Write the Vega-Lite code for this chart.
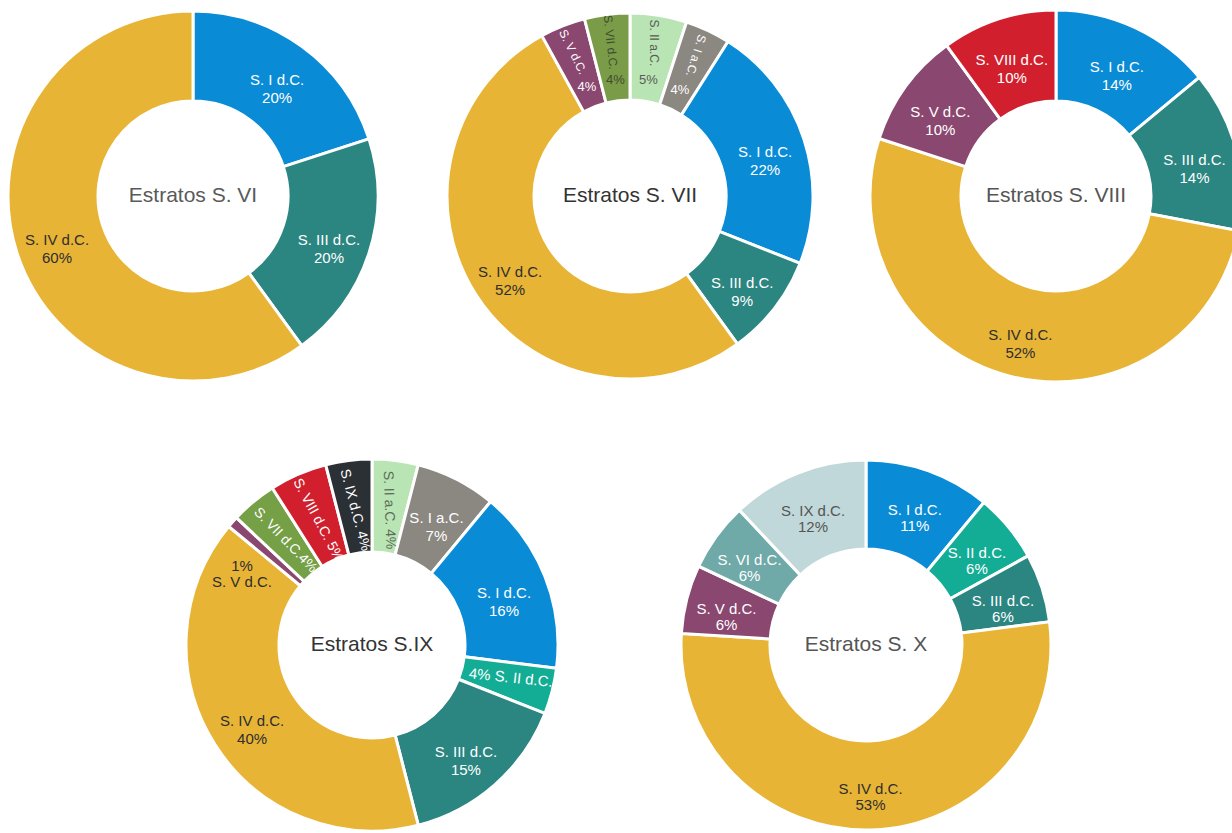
{
  "$schema": "https://vega.github.io/schema/vega-lite/v6.json",
  "padding": 0,
  "background": "white",
  "spacing": 61,
  "config": {"view": {"stroke": null}},
  "resolve": {"scale": {"color": "independent", "theta": "independent"}},
  "vconcat": [
    {
      "hconcat": [
        {
          "width": 386, "height": 392,
          "data": {"values": [
            {"s": "S. I d.C.", "v": 20, "n": 1},
            {"s": "S. III d.C.", "v": 20, "n": 2},
            {"s": "S. IV d.C.", "v": 60, "n": 3}
          ]},
          "layer": [
            {"mark": {"type": "arc", "outerRadius": 185, "innerRadius": 95, "stroke": "#ffffff", "strokeWidth": 3},
             "encoding": {"theta": {"field": "v", "type": "quantitative", "stack": true}, "order": {"field": "n", "type": "quantitative"},
               "color": {"field": "s", "type": "nominal", "legend": null, "scale": {"domain": ["S. I d.C.", "S. III d.C.", "S. IV d.C."], "range": ["#0a8bd6", "#2b8581", "#e8b435"]}}}},
            {"transform": [{"calculate": "datum.s + '\\n' + datum.v + '%'", "as": "lab"}],
             "mark": {"type": "text", "radius": 143, "font": "Liberation Sans", "fontSize": 15, "lineBreak": "\n", "lineHeight": 18},
             "encoding": {"theta": {"field": "v", "type": "quantitative", "stack": true}, "order": {"field": "n", "type": "quantitative"}, "detail": {"field": "s"},
               "text": {"field": "lab"},
               "color": {"condition": {"test": "datum.s === 'S. IV d.C.'", "value": "#2e2e2e"}, "value": "#ffffff"}}},
            {"data": {"values": [{"t": "Estratos S. VI"}]},
             "mark": {"type": "text", "font": "Liberation Sans", "fontSize": 21, "color": "#5a5a5a"},
             "encoding": {"text": {"field": "t"}}}
          ]
        },
        {
          "width": 488, "height": 392,
          "data": {"values": [
            {"s": "S. II a.C.", "v": 5, "n": 1},
            {"s": "S. I a.C.", "v": 4, "n": 2},
            {"s": "S. I d.C.", "v": 22, "n": 3},
            {"s": "S. III d.C.", "v": 9, "n": 4},
            {"s": "S. IV d.C.", "v": 52, "n": 5},
            {"s": "S. V d.C.", "v": 4, "n": 6},
            {"s": "S. VII d.C.", "v": 4, "n": 7}
          ]},
          "layer": [
            {"mark": {"type": "arc", "outerRadius": 183, "innerRadius": 96, "stroke": "#ffffff", "strokeWidth": 3},
             "encoding": {"theta": {"field": "v", "type": "quantitative", "stack": true}, "order": {"field": "n", "type": "quantitative"},
               "color": {"field": "s", "type": "nominal", "legend": null, "scale": {"domain": ["S. II a.C.", "S. I a.C.", "S. I d.C.", "S. III d.C.", "S. IV d.C.", "S. V d.C.", "S. VII d.C."], "range": ["#b9e4b3", "#8b8781", "#0a8bd6", "#2b8581", "#e8b435", "#8a476f", "#7a9c48"]}}}},
            {"transform": [{"calculate": "datum.s + '\\n' + datum.v + '%'", "as": "lab"}],
             "mark": {"type": "text", "radius": 142, "font": "Liberation Sans", "fontSize": 15, "lineBreak": "\n", "lineHeight": 18},
             "encoding": {"theta": {"field": "v", "type": "quantitative", "stack": true}, "order": {"field": "n", "type": "quantitative"}, "detail": {"field": "s"},
               "text": {"condition": {"test": "indexof(['S. I d.C.','S. III d.C.','S. IV d.C.'], datum.s) >= 0", "field": "lab"}, "value": ""},
               "color": {"condition": {"test": "datum.s === 'S. IV d.C.'", "value": "#2e2e2e"}, "value": "#ffffff"}}},
            {"mark": {"type": "text", "radius": 155, "font": "Liberation Sans", "fontSize": 12},
             "encoding": {"theta": {"field": "v", "type": "quantitative", "stack": true}, "order": {"field": "n", "type": "quantitative"}, "detail": {"field": "s"},
               "text": {"condition": {"test": "indexof(['S. II a.C.','S. I a.C.','S. V d.C.','S. VII d.C.'], datum.s) >= 0", "field": "s"}, "value": ""},
               "angle": {"condition": [
                 {"test": "datum.s === 'S. V d.C.'", "value": 64},
                 {"test": "datum.s === 'S. VII d.C.'", "value": 84},
                 {"test": "datum.s === 'S. II a.C.'", "value": 90},
                 {"test": "datum.s === 'S. I a.C.'", "value": 107}
               ], "value": 0},
               "color": {"condition": [
                 {"test": "datum.s === 'S. VII d.C.'", "value": "#3e4d2e"},
                 {"test": "datum.s === 'S. II a.C.'", "value": "#5a5a5a"}
               ], "value": "#ffffff"}}},
            {"transform": [{"calculate": "datum.v + '%'", "as": "pct"}],
             "mark": {"type": "text", "radius": 117, "font": "Liberation Sans", "fontSize": 13},
             "encoding": {"theta": {"field": "v", "type": "quantitative", "stack": true}, "order": {"field": "n", "type": "quantitative"}, "detail": {"field": "s"},
               "text": {"condition": {"test": "indexof(['S. II a.C.','S. I a.C.','S. V d.C.','S. VII d.C.'], datum.s) >= 0", "field": "pct"}, "value": ""},
               "color": {"condition": [
                 {"test": "datum.s === 'S. VII d.C.'", "value": "#3e4d2e"},
                 {"test": "datum.s === 'S. II a.C.'", "value": "#5a5a5a"}
               ], "value": "#ffffff"}}},
            {"data": {"values": [{"t": "Estratos S. VII"}]},
             "mark": {"type": "text", "font": "Liberation Sans", "fontSize": 21, "color": "#333333"},
             "encoding": {"text": {"field": "t"}}}
          ]
        },
        {
          "width": 364, "height": 392,
          "data": {"values": [
            {"s": "S. I d.C.", "v": 14, "n": 1},
            {"s": "S. III d.C.", "v": 14, "n": 2},
            {"s": "S. IV d.C.", "v": 52, "n": 3},
            {"s": "S. V d.C.", "v": 10, "n": 4},
            {"s": "S. VIII d.C.", "v": 10, "n": 5}
          ]},
          "layer": [
            {"mark": {"type": "arc", "outerRadius": 186, "innerRadius": 95, "stroke": "#ffffff", "strokeWidth": 3},
             "encoding": {"theta": {"field": "v", "type": "quantitative", "stack": true}, "order": {"field": "n", "type": "quantitative"},
               "color": {"field": "s", "type": "nominal", "legend": null, "scale": {"domain": ["S. I d.C.", "S. III d.C.", "S. IV d.C.", "S. V d.C.", "S. VIII d.C."], "range": ["#0a8bd6", "#2b8581", "#e8b435", "#8a476f", "#d11f2e"]}}}},
            {"transform": [{"calculate": "datum.s + '\\n' + datum.v + '%'", "as": "lab"}],
             "mark": {"type": "text", "radius": 143, "font": "Liberation Sans", "fontSize": 15, "lineBreak": "\n", "lineHeight": 18},
             "encoding": {"theta": {"field": "v", "type": "quantitative", "stack": true}, "order": {"field": "n", "type": "quantitative"}, "detail": {"field": "s"},
               "text": {"field": "lab"},
               "color": {"condition": {"test": "datum.s === 'S. IV d.C.'", "value": "#2e2e2e"}, "value": "#ffffff"}}},
            {"data": {"values": [{"t": "Estratos S. VIII"}]},
             "mark": {"type": "text", "font": "Liberation Sans", "fontSize": 21, "color": "#555555"},
             "encoding": {"text": {"field": "t"}}}
          ]
        }
      ],
      "spacing": 0,
      "bounds": "flush",
      "resolve": {"scale": {"color": "independent", "theta": "independent"}}
    },
    {
      "hconcat": [
        {
          "width": 744, "height": 372,
          "data": {"values": [
            {"s": "S. II a.C.", "v": 4, "n": 1},
            {"s": "S. I a.C.", "v": 7, "n": 2},
            {"s": "S. I d.C.", "v": 16, "n": 3},
            {"s": "S. II d.C.", "v": 4, "n": 4},
            {"s": "S. III d.C.", "v": 15, "n": 5},
            {"s": "S. IV d.C.", "v": 40, "n": 6},
            {"s": "S. V d.C.", "v": 1, "n": 7},
            {"s": "S. VII d.C.", "v": 4, "n": 8},
            {"s": "S. VIII d.C.", "v": 5, "n": 9},
            {"s": "S. IX d.C.", "v": 4, "n": 10}
          ]},
          "layer": [
            {"mark": {"type": "arc", "outerRadius": 186, "innerRadius": 93, "stroke": "#ffffff", "strokeWidth": 3},
             "encoding": {"theta": {"field": "v", "type": "quantitative", "stack": true}, "order": {"field": "n", "type": "quantitative"},
               "color": {"field": "s", "type": "nominal", "legend": null, "scale": {"domain": ["S. II a.C.", "S. I a.C.", "S. I d.C.", "S. II d.C.", "S. III d.C.", "S. IV d.C.", "S. V d.C.", "S. VII d.C.", "S. VIII d.C.", "S. IX d.C."], "range": ["#b9e4b3", "#8b8781", "#0a8bd6", "#13ad95", "#2b8581", "#e8b435", "#8a476f", "#76a046", "#d11f2e", "#2b3035"]}}}},
            {"transform": [{"calculate": "datum.s + '\\n' + datum.v + '%'", "as": "lab"}],
             "mark": {"type": "text", "radius": 142, "font": "Liberation Sans", "fontSize": 15, "lineBreak": "\n", "lineHeight": 18},
             "encoding": {"theta": {"field": "v", "type": "quantitative", "stack": true}, "order": {"field": "n", "type": "quantitative"}, "detail": {"field": "s"},
               "text": {"condition": {"test": "indexof(['S. I a.C.','S. I d.C.','S. III d.C.','S. IV d.C.'], datum.s) >= 0", "field": "lab"}, "value": ""},
               "color": {"condition": {"test": "datum.s === 'S. IV d.C.'", "value": "#2e2e2e"}, "value": "#ffffff"}}},
            {"transform": [{"calculate": "datum.s + (datum.s === 'S. VII d.C.' ? '' : ' ') + datum.v + '%'", "as": "lab"}],
             "mark": {"type": "text", "radius": 136, "font": "Liberation Sans", "fontSize": 14},
             "encoding": {"theta": {"field": "v", "type": "quantitative", "stack": true}, "order": {"field": "n", "type": "quantitative"}, "detail": {"field": "s"},
               "text": {"condition": {"test": "indexof(['S. VII d.C.','S. VIII d.C.','S. IX d.C.','S. II a.C.'], datum.s) >= 0", "field": "lab"}, "value": ""},
               "angle": {"condition": [
                 {"test": "datum.s === 'S. VII d.C.'", "value": 46},
                 {"test": "datum.s === 'S. VIII d.C.'", "value": 62},
                 {"test": "datum.s === 'S. IX d.C.'", "value": 75},
                 {"test": "datum.s === 'S. II a.C.'", "value": 88}
               ], "value": 0},
               "color": {"condition": {"test": "datum.s === 'S. II a.C.'", "value": "#5b6b58"}, "value": "#ffffff"}}},
            {"transform": [{"calculate": "datum.v + '% ' + datum.s", "as": "lab"}],
             "mark": {"type": "text", "radius": 143, "font": "Liberation Sans", "fontSize": 15, "angle": 6, "dy": -3},
             "encoding": {"theta": {"field": "v", "type": "quantitative", "stack": true}, "order": {"field": "n", "type": "quantitative"}, "detail": {"field": "s"},
               "text": {"condition": {"test": "datum.s === 'S. II d.C.'", "field": "lab"}, "value": ""},
               "color": {"value": "#ffffff"}}},
            {"transform": [{"calculate": "datum.v + '%\\n' + datum.s", "as": "lab"}],
             "mark": {"type": "text", "radius": 152, "font": "Liberation Sans", "fontSize": 15, "lineBreak": "\n", "lineHeight": 16, "dx": -16, "dy": 22},
             "encoding": {"theta": {"field": "v", "type": "quantitative", "stack": true}, "order": {"field": "n", "type": "quantitative"}, "detail": {"field": "s"},
               "text": {"condition": {"test": "datum.s === 'S. V d.C.'", "field": "lab"}, "value": ""},
               "color": {"value": "#2e2e2e"}}},
            {"data": {"values": [{"t": "Estratos S.IX"}]},
             "mark": {"type": "text", "font": "Liberation Sans", "fontSize": 21, "color": "#333333"},
             "encoding": {"text": {"field": "t"}}}
          ]
        },
        {
          "width": 244, "height": 372,
          "data": {"values": [
            {"s": "S. I d.C.", "v": 11, "n": 1},
            {"s": "S. II d.C.", "v": 6, "n": 2},
            {"s": "S. III d.C.", "v": 6, "n": 3},
            {"s": "S. IV d.C.", "v": 53, "n": 4},
            {"s": "S. V d.C.", "v": 6, "n": 5},
            {"s": "S. VI d.C.", "v": 6, "n": 6},
            {"s": "S. IX d.C.", "v": 12, "n": 7}
          ]},
          "layer": [
            {"mark": {"type": "arc", "outerRadius": 185, "innerRadius": 96, "stroke": "#ffffff", "strokeWidth": 3},
             "encoding": {"theta": {"field": "v", "type": "quantitative", "stack": true}, "order": {"field": "n", "type": "quantitative"},
               "color": {"field": "s", "type": "nominal", "legend": null, "scale": {"domain": ["S. I d.C.", "S. II d.C.", "S. III d.C.", "S. IV d.C.", "S. V d.C.", "S. VI d.C.", "S. IX d.C."], "range": ["#0a8bd6", "#13ad95", "#2b8581", "#e8b435", "#8a476f", "#6fa9a8", "#c1d8da"]}}}},
            {"transform": [{"calculate": "datum.s + '\\n' + datum.v + '%'", "as": "lab"}],
             "mark": {"type": "text", "radius": 144, "font": "Liberation Sans", "fontSize": 15, "lineBreak": "\n", "lineHeight": 16},
             "encoding": {"theta": {"field": "v", "type": "quantitative", "stack": true}, "order": {"field": "n", "type": "quantitative"}, "detail": {"field": "s"},
               "text": {"field": "lab"},
               "color": {"condition": [
                 {"test": "datum.s === 'S. IV d.C.'", "value": "#2e2e2e"},
                 {"test": "datum.s === 'S. IX d.C.'", "value": "#555555"}
               ], "value": "#ffffff"}}},
            {"data": {"values": [{"t": "Estratos S. X"}]},
             "mark": {"type": "text", "font": "Liberation Sans", "fontSize": 21, "color": "#555555"},
             "encoding": {"text": {"field": "t"}}}
          ]
        }
      ],
      "spacing": 0,
      "bounds": "flush",
      "resolve": {"scale": {"color": "independent", "theta": "independent"}}
    }
  ]
}
